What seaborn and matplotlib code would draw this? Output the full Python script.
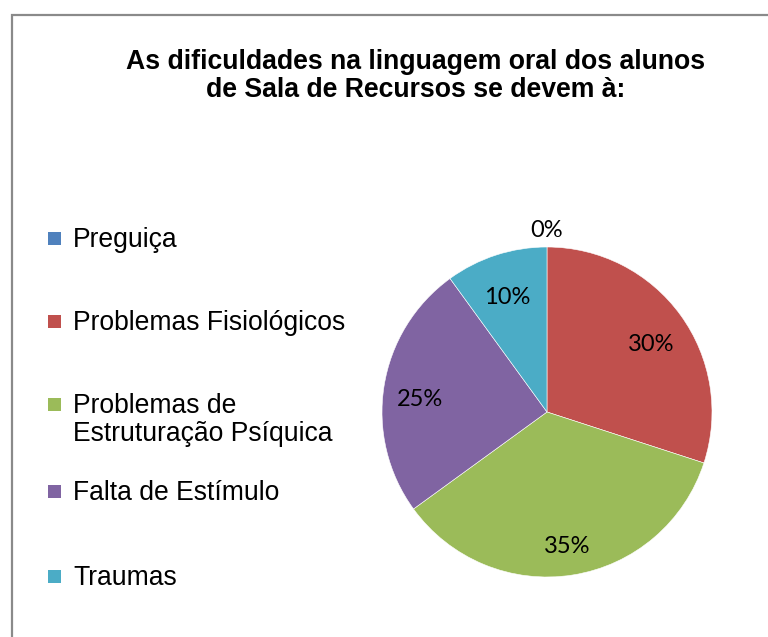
import numpy as np
import matplotlib
matplotlib.use('Agg')
import matplotlib.pyplot as plt
from matplotlib.patches import Rectangle
import seaborn as sns

# --- dados ---
categorias = ['Preguiça', 'Problemas Fisiológicos', 'Problemas de\nEstruturação Psíquica',
              'Falta de Estímulo', 'Traumas']
percentuais = [0, 30, 35, 25, 10]
cores = ['#4F81BD', '#C0504D', '#9BBB59', '#8064A2', '#4BACC6']
titulo = 'As dificuldades na linguagem oral dos alunos\nde Sala de Recursos se devem à:'

sns.set_theme(style='white')
plt.rcParams['font.family'] = ['Liberation Sans', 'DejaVu Sans']

W, H = 768, 637
fig = plt.figure(figsize=(W / 100, H / 100), dpi=100)
fig.patch.set_facecolor('white')

def fx(px):
    return px / W

def fy(py):
    return 1 - py / H

# moldura (só topo e esquerda aparecem)
fig.add_artist(Rectangle((fx(12), -0.1), 1.2, fy(15) + 0.1, transform=fig.transFigure,
                         fill=False, edgecolor='#8a8a8a', linewidth=1.6, clip_on=False))

# título
fig.text(fx(416), fy(76), titulo, ha='center', va='center', fontsize=19.2,
         fontweight='bold', linespacing=1.08, color='black')

# --- pizza ---
cx, cy, r = 547, 412, 165
ax = fig.add_axes([fx(cx - r), fy(cy + r), 2 * r / W, 2 * r / H])
wedges, _, autotexts = ax.pie(percentuais, colors=cores, startangle=90, counterclock=False,
                              autopct='%.0f%%', pctdistance=0.78, radius=1,
                              wedgeprops=dict(edgecolor='white', linewidth=0.4),
                              textprops=dict(fontsize=17, family=['Lato', 'DejaVu Sans'],
                                             color='black'))
for w, t, v in zip(wedges, autotexts, percentuais):
    ang = np.deg2rad((w.theta1 + w.theta2) / 2)
    if v > 0:
        pos = (0.78 * np.cos(ang), 0.78 * np.sin(ang) - 0.035)
    else:
        pos = (1.11 * np.cos(ang), 1.11 * np.sin(ang))
    t.set_position(pos)
    t.set_va('center_baseline')
ax.set_xlim(-1, 1)
ax.set_ylim(-1, 1)
ax.set_aspect('equal')
ax.axis('off')

# --- legenda ---
leg_y = [238, 321, 404, 491, 576]
for cat, cor, y in zip(categorias, cores, leg_y):
    fig.add_artist(Rectangle((fx(48), fy(y + 6.5)), 13 / W, 13 / H, transform=fig.transFigure,
                             facecolor=cor, edgecolor='none'))
    fig.text(fx(73), fy(y - 11), cat, ha='left', va='top', fontsize=19.1,
             linespacing=1.12, color='black')

fig.savefig('out.png', dpi=100)
